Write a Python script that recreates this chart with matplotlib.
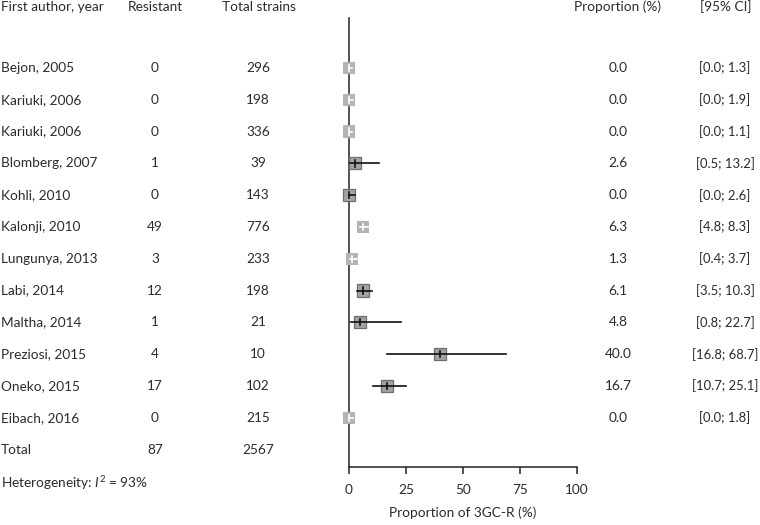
import matplotlib
matplotlib.use('Agg')
import matplotlib.pyplot as plt
from matplotlib.patches import Rectangle
from matplotlib.transforms import blended_transform_factory

plt.rcParams['font.family'] = ['Lato', 'DejaVu Sans']
plt.rcParams['mathtext.fontset'] = 'custom'
plt.rcParams['mathtext.it'] = 'Lato:italic'
plt.rcParams['mathtext.rm'] = 'Lato'

# data
studies = ['Bejon, 2005', 'Kariuki, 2006', 'Kariuki, 2006', 'Blomberg, 2007', 'Kohli, 2010',
           'Kalonji, 2010', 'Lungunya, 2013', 'Labi, 2014', 'Maltha, 2014', 'Preziosi, 2015',
           'Oneko, 2015', 'Eibach, 2016']
resistant = [0, 0, 0, 1, 0, 49, 3, 12, 1, 4, 17, 0]
total = [296, 198, 336, 39, 143, 776, 233, 198, 21, 10, 102, 215]
prop = [0.0, 0.0, 0.0, 2.6, 0.0, 6.3, 1.3, 6.1, 4.8, 40.0, 16.7, 0.0]
ci_low = [0.0, 0.0, 0.0, 0.5, 0.0, 4.8, 0.4, 3.5, 0.8, 16.8, 10.7, 0.0]
ci_high = [1.3, 1.9, 1.1, 13.2, 2.6, 8.3, 3.7, 10.3, 22.7, 68.7, 25.1, 1.8]
group = ['a', 'a', 'a', 'b', 'b', 'a', 'a', 'b', 'b', 'b', 'b', 'a']
total_res = 87
total_n = 2567
i2 = 93
xticks = [0, 25, 50, 75, 100]

W, H = 760, 525
fig = plt.figure(figsize=(W / 100, H / 100), dpi=100)
ax = fig.add_axes([349 / W, 1 - 467 / H, 228 / W, (467 - 18) / H])
ax.set_xlim(0, 100)
ax.set_ylim(12.55, -1.57)

txt = '#2b2b2b'
fs = 9.8
for sp in ['top', 'right']:
    ax.spines[sp].set_visible(False)
ax.spines['left'].set_color('#222222')
ax.spines['bottom'].set_color('#222222')
ax.spines['left'].set_linewidth(1.1)
ax.spines['bottom'].set_linewidth(1.1)
ax.set_yticks([])
ax.set_xticks(xticks)
ax.tick_params(axis='x', length=5, width=1.1, color='#222222', pad=7,
               labelsize=fs, labelcolor=txt)
ax.set_xlabel('Proportion of 3GC-R (%)', fontsize=fs, color=txt, labelpad=8)

hw = 2.6   # half box width (x units)
hh = 0.19  # half box height (rows)
for i in range(len(studies)):
    if group[i] == 'a':
        ax.add_patch(Rectangle((prop[i] - hw, i - hh), 2 * hw, 2 * hh, facecolor='#b4b4b4',
                               edgecolor='none', clip_on=False, zorder=3))
        lc = 'white'
    else:
        ax.add_patch(Rectangle((prop[i] - hw, i - hh), 2 * hw, 2 * hh, facecolor='#a3a3a3',
                               edgecolor='#6e6e6e', linewidth=0.9, clip_on=False, zorder=3))
        lc = '#111111'
    ax.plot([ci_low[i], ci_high[i]], [i, i], color=lc, lw=1.2, clip_on=False, zorder=4)
    ax.plot([prop[i], prop[i]], [i - 0.1, i + 0.1], color=lc, lw=1.2, clip_on=False, zorder=4)

tr = blended_transform_factory(fig.transFigure, ax.transData)
hy = -1.92
fig.text(1 / W, hy, 'First author, year', transform=tr, ha='left', va='center', fontsize=fs, color=txt)
fig.text(155 / W, hy, 'Resistant', transform=tr, ha='center', va='center', fontsize=fs, color=txt)
fig.text(259 / W, hy, 'Total strains', transform=tr, ha='center', va='center', fontsize=fs, color=txt)
fig.text(617 / W, hy, 'Proportion (%)', transform=tr, ha='center', va='center', fontsize=fs, color=txt)
fig.text(726 / W, hy, '[95% CI]', transform=tr, ha='center', va='center', fontsize=fs, color=txt)

for i in range(len(studies)):
    fig.text(1 / W, i, studies[i], transform=tr, ha='left', va='center', fontsize=fs, color=txt)
    fig.text(155 / W, i, str(resistant[i]), transform=tr, ha='center', va='center', fontsize=fs, color=txt)
    fig.text(258 / W, i, str(total[i]), transform=tr, ha='center', va='center', fontsize=fs, color=txt)
    fig.text(618 / W, i, '%.1f' % prop[i], transform=tr, ha='center', va='center', fontsize=fs, color=txt)
    fig.text(725 / W, i, '[%.1f; %.1f]' % (ci_low[i], ci_high[i]), transform=tr, ha='center',
             va='center', fontsize=9.4, color=txt)

n = len(studies)
fig.text(1 / W, n, 'Total', transform=tr, ha='left', va='center', fontsize=fs, color=txt)
fig.text(155 / W, n, str(total_res), transform=tr, ha='center', va='center', fontsize=fs, color=txt)
fig.text(258 / W, n, str(total_n), transform=tr, ha='center', va='center', fontsize=fs, color=txt)
fig.text(1 / W, n + 1.05, r'Heterogeneity: $\mathit{I}^2$ = %d%%' % i2, transform=tr, ha='left',
         va='center', fontsize=fs, color=txt)

fig.savefig('out.png', dpi=100)
